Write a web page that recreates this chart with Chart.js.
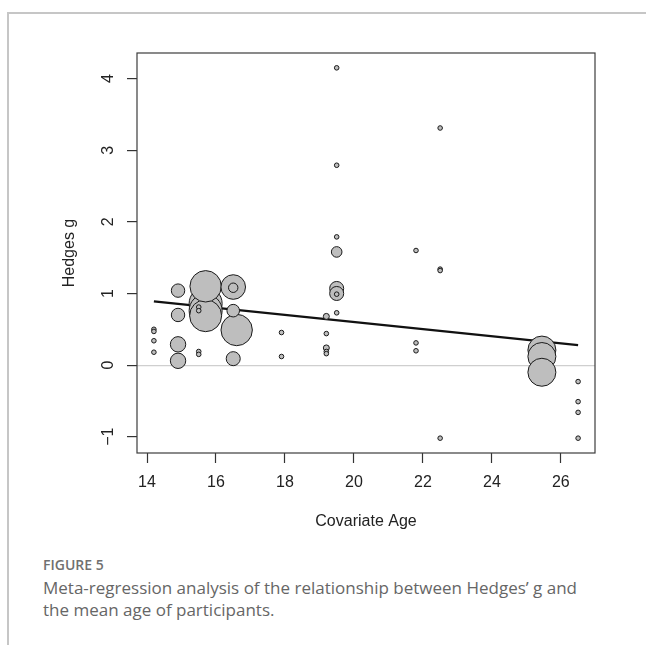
<!DOCTYPE html>
<html>
<head>
<meta charset="utf-8">
<script src="https://cdn.jsdelivr.net/npm/chart.js@4"></script>
<style>
  html, body { margin: 0; padding: 0; background: #fff; }
  body { width: 646px; height: 645px; position: relative; overflow: hidden; }
  .card { position: absolute; left: 7px; top: 12px; right: -4px; bottom: -4px;
          border-left: 2px solid #c6c6c6; border-top: 2px solid #c6c6c6; }
  #chartBox { position: absolute; left: 0; top: 0; width: 646px; height: 540px; }
  .fig { position: absolute; left: 43px; top: 555px; font-family: "Open Sans", sans-serif;
         font-size: 14px; font-weight: 600; color: #707070; line-height: 20px; }
  .cap { position: absolute; left: 43px; top: 577px; width: 600px; font-family: "Open Sans", sans-serif;
         font-size: 17px; color: #666; line-height: 22px; white-space: nowrap; }
</style>
</head>
<body>
<div class="card"></div>
<div id="chartBox"><canvas id="metaChart" width="646" height="540"></canvas></div>
<div class="fig">FIGURE 5</div>
<div class="cap">Meta-regression analysis of the relationship between Hedges’ g and<br>the mean age of participants.</div>
<script>
// --- study data ---
const ages = [14.2, 14.2, 14.2, 14.2, 14.9, 14.9, 14.9, 14.9,
  15.7, 15.7, 15.7, 15.7, 15.5, 15.5, 15.5, 15.5,
  16.5, 16.5, 16.5, 16.6, 16.5, 17.9, 17.9,
  19.2, 19.2, 19.2, 19.2, 19.2,
  19.5, 19.5, 19.5, 19.5, 19.5, 19.5, 19.5, 19.5,
  21.8, 21.8, 21.8, 22.5, 22.5, 22.5, 22.5,
  25.45, 25.45, 25.45, 26.5, 26.5, 26.5, 26.5];
const hedgesG = [0.50, 0.47, 0.34, 0.18, 1.04, 0.70, 0.29, 0.06,
  1.10, 0.86, 0.76, 0.69, 0.81, 0.76, 0.19, 0.15,
  1.09, 1.08, 0.76, 0.49, 0.09, 0.455, 0.12,
  0.68, 0.44, 0.24, 0.19, 0.16,
  4.15, 2.79, 1.79, 1.58, 1.07, 1.00, 0.99, 0.73,
  1.60, 0.31, 0.20, 3.31, 1.34, 1.32, -1.02,
  0.21, 0.12, -0.10, -0.23, -0.51, -0.66, -1.02];
// relative study weights (bubble area)
const weights = [1, 1, 1, 1, 8.5, 8.5, 11.2, 11.2,
  46.6, 51.5, 51.5, 48.4, 1, 1, 1, 1,
  28.6, 4.2, 7.5, 46.6, 9.3, 1, 1,
  1.7, 1, 1.7, 1, 1,
  1, 1, 1, 5.3, 9.3, 9.3, 1, 1,
  1, 1, 1, 1, 1, 1, 1,
  37, 37, 37, 1, 1, 1, 1];

// fitted meta-regression line
const fitAges = [14.2, 26.5];
const fitG = [0.89, 0.28];

const xTitle = 'Covariate Age';
const yTitle = 'Hedges g';

// big bubbles first so small ones stay visible on top
const order = ages.map((_, i) => i).sort((a, b) => weights[b] - weights[a]);
const points = order.map(i => ({ x: ages[i], y: hedgesG[i], w: weights[i] }));

const rFrame = {
  id: 'rFrame',
  afterDraw(chart) {
    const { ctx, chartArea: a, scales: { x, y } } = chart;
    ctx.save();
    ctx.strokeStyle = '#3c3c3c';
    ctx.lineWidth = 1.2;
    ctx.strokeRect(a.left, a.top, a.right - a.left, a.bottom - a.top);

    ctx.fillStyle = '#222';
    ctx.font = '16px "Liberation Sans", Arial, sans-serif';
    ctx.textAlign = 'center';
    ctx.textBaseline = 'middle';
    x.ticks.forEach(t => ctx.fillText(String(t.value), x.getPixelForValue(t.value), a.bottom + 30));
    y.ticks.forEach(t => {
      ctx.save();
      ctx.translate(a.left - 28, y.getPixelForValue(t.value));
      ctx.rotate(-Math.PI / 2);
      ctx.fillText(String(t.value).replace('-', '\u2212'), 0, 0);
      ctx.restore();
    });
    ctx.fillText(xTitle, (a.left + a.right) / 2, a.bottom + 69);
    ctx.save();
    ctx.translate(a.left - 67, (a.top + a.bottom) / 2);
    ctx.rotate(-Math.PI / 2);
    ctx.fillText(yTitle, 0, 0);
    ctx.restore();
    ctx.restore();
  }
};

new Chart(document.getElementById('metaChart'), {
  type: 'scatter',
  data: {
    datasets: [
      {
        type: 'line',
        data: fitAges.map((a, i) => ({ x: a, y: fitG[i] })),
        borderColor: '#111',
        borderWidth: 2.2,
        pointRadius: 0,
        order: 2
      },
      {
        data: points,
        backgroundColor: '#bebebe',
        borderColor: '#1a1a1a',
        borderWidth: 1,
        pointRadius: ctx => Math.sqrt(ctx.raw.w) * 2.3,
        order: 1
      }
    ]
  },
  options: {
    responsive: false,
    animation: false,
    devicePixelRatio: 1,
    layout: { padding: { left: 0, top: 53, right: 51, bottom: 0 } },
    plugins: { legend: { display: false }, tooltip: { enabled: false } },
    scales: {
      x: {
        type: 'linear',
        min: 13.71,
        max: 26.99,
        ticks: { display: false, stepSize: 2, includeBounds: false },
        grid: { drawOnChartArea: false, tickLength: 10, tickColor: '#333', tickWidth: 1.2 },
        border: { display: false },
        afterFit: s => { s.height = 87; }
      },
      y: {
        type: 'linear',
        min: -1.227,
        max: 4.357,
        ticks: { display: false, stepSize: 1, includeBounds: false },
        grid: {
          tickLength: 10,
          tickColor: '#333',
          tickWidth: 1.2,
          color: c => (c.tick && c.tick.value === 0 ? '#cfcfcf' : 'rgba(0,0,0,0)'),
          lineWidth: 1.2
        },
        border: { display: false },
        afterFit: s => { s.width = 137; }
      }
    }
  },
  plugins: [rFrame]
});
</script>
</body>
</html>
